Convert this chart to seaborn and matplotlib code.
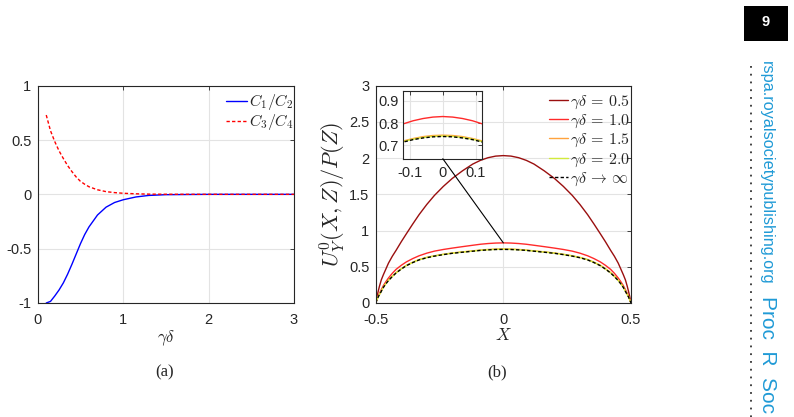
import numpy as np
import pandas as pd
import matplotlib
matplotlib.use("Agg")
import matplotlib.pyplot as plt
from matplotlib.patches import ConnectionPatch, Rectangle
from matplotlib.lines import Line2D
import seaborn as sns

# panel (a): coefficient ratios vs gamma*delta
gd = [0.1, 0.15, 0.2, 0.25, 0.3, 0.35, 0.4, 0.45, 0.5, 0.55, 0.6, 0.7, 0.8,
      0.9, 1.0, 1.15, 1.3, 1.5, 2.0, 2.5, 3.0]
c1_c2 = [-1.0, -0.985, -0.935, -0.88, -0.815, -0.735, -0.645, -0.55, -0.455,
         -0.37, -0.3, -0.19, -0.118, -0.075, -0.05, -0.024, -0.01, -0.003,
         0.0, 0.0, 0.0]
c3_c4 = [0.73, 0.585, 0.485, 0.4, 0.33, 0.265, 0.21, 0.16, 0.12, 0.093, 0.07,
         0.042, 0.025, 0.016, 0.01, 0.005, 0.002, 0.001, 0.0, 0.0, 0.0]

# panel (b): velocity profiles across X
X = [-0.5, -0.498, -0.495, -0.49, -0.485, -0.478, -0.47, -0.46, -0.45,
     -0.435, -0.42, -0.4, -0.38, -0.355, -0.33, -0.3, -0.27, -0.235, -0.2,
     -0.16, -0.12, -0.09, -0.06, -0.03, 0.0, 0.03, 0.06, 0.09, 0.12, 0.16,
     0.2, 0.235, 0.27, 0.3, 0.33, 0.355, 0.38, 0.4, 0.42, 0.435, 0.45, 0.46,
     0.47, 0.478, 0.485, 0.49, 0.495, 0.498, 0.5]
u_05 = [0, 0.036, 0.09, 0.165, 0.235, 0.32, 0.39, 0.47, 0.55, 0.645, 0.728,
        0.845, 0.955, 1.09, 1.22, 1.36, 1.485, 1.61, 1.72, 1.825, 1.918, 1.969,
        2.006, 2.028, 2.035,
        2.028, 2.006, 1.969, 1.918, 1.825, 1.72, 1.61, 1.485, 1.36, 1.22, 1.09,
        0.955, 0.845, 0.728, 0.645, 0.55, 0.47, 0.39, 0.32, 0.235, 0.165, 0.09,
        0.036, 0]
u_10 = [0, 0.02, 0.05, 0.095, 0.135, 0.185, 0.24, 0.295, 0.345, 0.41, 0.465,
        0.52, 0.567, 0.613, 0.652, 0.688, 0.716, 0.739, 0.758, 0.778, 0.797,
        0.811, 0.821, 0.8275, 0.83,
        0.8275, 0.821, 0.811, 0.797, 0.778, 0.758, 0.739, 0.716, 0.688, 0.652,
        0.613, 0.567, 0.52, 0.465, 0.41, 0.345, 0.295, 0.24, 0.185, 0.135,
        0.095, 0.05, 0.02, 0]
u_15 = [0, 0.018, 0.046, 0.09, 0.12, 0.166, 0.219, 0.27, 0.315, 0.37, 0.42,
        0.473, 0.52, 0.563, 0.6, 0.63, 0.652, 0.673, 0.691, 0.706, 0.72, 0.731,
        0.7395, 0.7445, 0.746,
        0.7445, 0.7395, 0.731, 0.72, 0.706, 0.691, 0.673, 0.652, 0.63, 0.6,
        0.563, 0.52, 0.473, 0.42, 0.37, 0.315, 0.27, 0.219, 0.166, 0.12, 0.09,
        0.046, 0.018, 0]
u_20 = [0, 0.018, 0.045, 0.089, 0.118, 0.164, 0.217, 0.267, 0.312, 0.367,
        0.417, 0.47, 0.517, 0.56, 0.597, 0.627, 0.649, 0.67, 0.688, 0.703,
        0.717, 0.728, 0.7355, 0.7405, 0.742,
        0.7405, 0.7355, 0.728, 0.717, 0.703, 0.688, 0.67, 0.649, 0.627, 0.597,
        0.56, 0.517, 0.47, 0.417, 0.367, 0.312, 0.267, 0.217, 0.164, 0.118,
        0.089, 0.045, 0.018, 0]
u_inf = [0, 0.018, 0.045, 0.086, 0.117, 0.162, 0.215, 0.265, 0.31, 0.365,
         0.415, 0.468, 0.515, 0.558, 0.595, 0.625, 0.647, 0.668, 0.686, 0.701,
         0.715, 0.726, 0.7335, 0.7385, 0.74,
         0.7385, 0.7335, 0.726, 0.715, 0.701, 0.686, 0.668, 0.647, 0.625,
         0.595, 0.558, 0.515, 0.468, 0.415, 0.365, 0.31, 0.265, 0.215, 0.162,
         0.117, 0.086, 0.045, 0.018, 0]

DASH = (0, (2.4, 1.6))
profiles = [
    (u_05, r"$\gamma\delta\,=\,0.5$", "#9a0f0f", "-"),
    (u_10, r"$\gamma\delta\,=\,1.0$", "#ff2a2a", "-"),
    (u_15, r"$\gamma\delta\,=\,1.5$", "#ffa33d", "-"),
    (u_20, r"$\gamma\delta\,=\,2.0$", "#d2ea3c", "-"),
    (u_inf, r"$\gamma\delta\,\rightarrow\,\infty$", "#000000", DASH),
]

sns.set_theme(style="whitegrid")
plt.rcParams.update({
    "font.family": ["Liberation Sans", "DejaVu Sans"],
    "mathtext.fontset": "cm",
    "axes.unicode_minus": False,
    "axes.edgecolor": "#262626",
    "axes.linewidth": 0.8,
    "grid.color": "#e3e3e3",
    "grid.linewidth": 0.8,
    "xtick.direction": "in",
    "ytick.direction": "in",
    "xtick.top": True,
    "ytick.right": True,
    "xtick.major.size": 3,
    "ytick.major.size": 3,
    "xtick.major.width": 0.6,
    "ytick.major.width": 0.6,
    "xtick.major.pad": 7,
    "ytick.major.pad": 4.5,
    "xtick.color": "#262626",
    "ytick.color": "#262626",
    "xtick.labelsize": 10.5,
    "ytick.labelsize": 10.5,
})

W, H = 794, 417
fig = plt.figure(figsize=(W / 100, H / 100), dpi=100)
fig.patch.set_facecolor("white")


def px_axes(x0, x1, y0, y1):
    return fig.add_axes([x0 / W, 1 - y1 / H, (x1 - x0) / W, (y1 - y0) / H])


#%%
# panel (a)
ax1 = px_axes(37.7, 294, 85.7, 303)
df_a = pd.DataFrame({"gd": gd, "c12": c1_c2, "c34": c3_c4})
sns.lineplot(data=df_a, x="gd", y="c12", ax=ax1, color="#0000ff", lw=1.0,
             label=r"$C_1/C_2$")
sns.lineplot(data=df_a, x="gd", y="c34", ax=ax1, color="#ff0000", lw=1.0,
             linestyle=DASH, label=r"$C_3/C_4$")
ax1.set_xlim(0, 3)
ax1.set_ylim(-1, 1)
ax1.set_xticks([0, 1, 2, 3])
ax1.set_yticks([-1, -0.5, 0, 0.5, 1])
ax1.set_yticklabels(["-1", "-0.5", "0", "0.5", "1"])
ax1.set_xlabel(r"$\gamma\delta$", fontsize=12, labelpad=1)
ax1.set_ylabel("")
ax1.legend(loc="upper left", bbox_to_anchor=(0.735, 0.97), frameon=False,
           fontsize=11.5, handlelength=1.3, handletextpad=0.15,
           labelspacing=0.0, borderpad=0, borderaxespad=0)

#%%
# panel (b)
ax2 = px_axes(375.7, 631, 85.7, 303)
df_b = pd.DataFrame({"X": X})
for vals, lab, col, ls in profiles:
    sns.lineplot(x=df_b["X"], y=vals, ax=ax2, color=col, lw=1.0,
                 linestyle=ls, label=lab)
ax2.set_xlim(-0.5, 0.5)
ax2.set_ylim(0, 3)
ax2.set_xticks([-0.5, 0, 0.5])
ax2.set_xticklabels(["-0.5", "0", "0.5"])
ax2.set_yticks([0, 0.5, 1, 1.5, 2, 2.5, 3])
ax2.set_yticklabels(["0", "0.5", "1", "1.5", "2", "2.5", "3"])
ax2.set_xlabel(r"$X$", fontsize=12.5, labelpad=0)
ax2.set_ylabel(r"$U_Y^0(X,Z)/P(Z)$", fontsize=16, labelpad=1)
ax2.legend(loc="upper left", bbox_to_anchor=(0.679, 0.965), frameon=False,
           fontsize=11.5, handlelength=1.2, handletextpad=0.1,
           labelspacing=0.12, borderpad=0, borderaxespad=0)

# inset zoom near the centreline
axin = px_axes(403.3, 482.3, 91, 158.7)
for vals, lab, col, ls in profiles:
    sns.lineplot(x=df_b["X"], y=vals, ax=axin, color=col, lw=1.0,
                 linestyle=ls, legend=False)
axin.set_xlim(-0.12, 0.12)
axin.set_ylim(0.64, 0.945)
axin.set_xticks([-0.1, 0, 0.1])
axin.set_xticklabels(["-0.1", "0", "0.1"])
axin.set_yticks([0.7, 0.8, 0.9])
axin.set_yticklabels(["0.7", "0.8", "0.9"])
axin.set_xlabel("")
axin.set_ylabel("")
axin.tick_params(axis="x", pad=5)
axin.tick_params(axis="y", pad=3)
axin.set_facecolor("white")

con = ConnectionPatch(xyA=(0, axin.get_ylim()[0]), coordsA=axin.transData,
                      xyB=(0, u_10[X.index(0.0)]), coordsB=ax2.transData,
                      color="black", lw=0.8)
fig.add_artist(con)

#%%
# panel tags and page furniture
fig.text(165 / W, 1 - 372 / H, "(a)", ha="center", va="center",
         family="Liberation Serif", fontsize=12)
fig.text(497 / W, 1 - 372 / H, "(b)", ha="center", va="center",
         family="Liberation Serif", fontsize=12)

fig.add_artist(Rectangle((744 / W, 1 - 40.7 / H), 44.3 / W, 35 / H,
                         transform=fig.transFigure, color="black", lw=0))
fig.text(766 / W, 1 - 22.5 / H, "9", ha="center", va="center", color="white",
         fontsize=10.5, fontweight="bold")
fig.add_artist(Line2D([750.7 / W, 750.7 / W], [1 - 66 / H, 0],
                      transform=fig.transFigure, color="#333333", lw=1.3,
                      linestyle=(0, (1, 3.3)), dash_capstyle="butt"))
fig.text(766.7 / W, 1 - 61 / H, "rspa.royalsocietypublishing.org",
         rotation=270, ha="center", va="top", color="#1f9ad6", fontsize=11.7)
fig.text(767.5 / W, 1 - 296 / H, "Proc  R  Soc A",
         rotation=270, ha="center", va="top", color="#1f9ad6", fontsize=15)

fig.savefig("out.png", dpi=100, facecolor="white")
